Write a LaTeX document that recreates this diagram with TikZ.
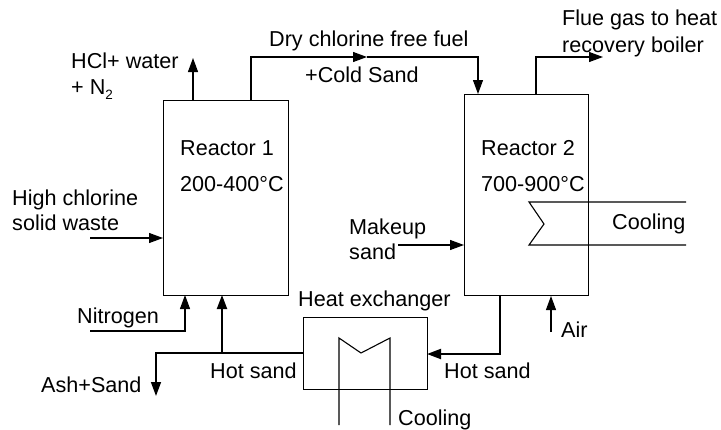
\documentclass[tikz,border=0pt]{standalone}
\usepackage{fontspec}
\setmainfont{Liberation Sans}
\usetikzlibrary{arrows.meta}
\tikzset{
  lab/.style={anchor=base west,inner sep=0pt,font=\fontsize{21.6}{24}\selectfont},
  vessel/.style={draw=black,line width=1.1pt,inner sep=0pt,anchor=north west},
  flow/.style={draw=black,line width=1.1pt,line join=miter},
  heavy/.style={flow,line width=2pt},
  tip/.style={-{Triangle[length=14pt,width=10pt]}}
}
\begin{document}
\begin{tikzpicture}[x=1pt,y=-1pt]
\useasboundingbox (0,0) rectangle (721,429);
% vessels
\node[vessel,minimum width=125pt,minimum height=195pt] (r1) at (163,100) {};
\node[vessel,minimum width=124pt,minimum height=201pt] (r2) at (464,94) {};
\node[vessel,minimum width=124pt,minimum height=72pt] (hx) at (303,317) {};
% connector points
\coordinate (hcltop) at (193,58);
\coordinate (hclbase) at (193,100);
\coordinate (drybase) at (251,100);
\coordinate (drymid) at (367,57);
\coordinate (dryend) at (478,94);
\coordinate (fluebase) at (536,94);
\coordinate (flueend) at (603,57);
\coordinate (wastestart) at (90,238);
\coordinate (wasteend) at (163,238);
\coordinate (n2start) at (90,331);
\coordinate (n2end) at (185,295);
\coordinate (hsleft) at (303,353);
\coordinate (ashend) at (156,396);
\coordinate (hsjoin) at (222,353);
\coordinate (hsup) at (222,295);
\coordinate (r2out) at (500,295);
\coordinate (hxin) at (427,354);
\coordinate (airstart) at (551,332);
\coordinate (airend) at (551,296);
\coordinate (mustart) at (398,245);
\coordinate (muend) at (464,245);
% flows
\draw[flow,tip] (hclbase) -- (hcltop);
\draw[flow,tip] (drybase) |- (drymid);
\draw[flow,tip] (drymid) -| (dryend);
\draw[flow,tip] (fluebase) |- (flueend);
\draw[flow,tip] (wastestart) -- (wasteend);
\draw[flow,tip] (n2start) -| (n2end);
\draw[flow,line width=1.5pt,tip] (hsleft) -| (ashend);
\draw[heavy,tip] (hsjoin) -- (hsup);
\draw[heavy,tip] (r2out) |- (hxin);
\draw[flow,tip] (airstart) -- (airend);
\draw[flow,tip] (mustart) -- (muend);
% cooling coils
\coordinate (cr1) at (686,202);
\coordinate (cr2) at (529,202);
\coordinate (cr3) at (544,224);
\coordinate (cr4) at (529,245);
\coordinate (cr5) at (686,245);
\draw[flow] (cr1) -- (cr2) -- (cr3) -- (cr4) -- (cr5);
\coordinate (ch1) at (339,425);
\coordinate (ch2) at (339,338);
\coordinate (ch3) at (361,353);
\coordinate (ch4) at (390,338);
\coordinate (ch5) at (390,425);
\draw[flow] (ch1) -- (ch2) -- (ch3) -- (ch4) -- (ch5);
% labels
\node[lab] (t1) at (71,68) {HCl+ water};
\node[lab] (t2) at (71,94) {+ N\raisebox{-0.25em}{\fontsize{13.5}{15}\selectfont 2}};
\node[lab] (t3) at (269,46) {Dry chlorine free fuel};
\node[lab] (t4) at (305,82) {+Cold Sand};
\node[lab] (t5) at (180,155) {Reactor 1};
\node[lab] (t6) at (180,191) {200-400°C};
\node[lab] (t7) at (12,205) {High chlorine};
\node[lab] (t8) at (12,230) {solid waste};
\node[lab] (t9) at (77,323) {Nitrogen};
\node[lab] (t10) at (41,392) {Ash+Sand};
\node[lab] (t11) at (210,378) {Hot sand};
\node[lab] (t12) at (298,306) {Heat exchanger};
\node[lab] (t13) at (444,378) {Hot sand};
\node[lab] (t14) at (398,425) {Cooling};
\node[lab] (t15) at (561,337) {Air};
\node[lab] (t16) at (349,234) {Makeup};
\node[lab] (t17) at (349,259) {sand};
\node[lab] (t18) at (481,155) {Reactor 2};
\node[lab] (t19) at (481,191) {700-900°C};
\node[lab] (t20) at (612,229) {Cooling};
\node[lab] (t21) at (562,25) {Flue gas to heat};
\node[lab] (t22) at (562,52) {recovery boiler};
\end{tikzpicture}
\end{document}
